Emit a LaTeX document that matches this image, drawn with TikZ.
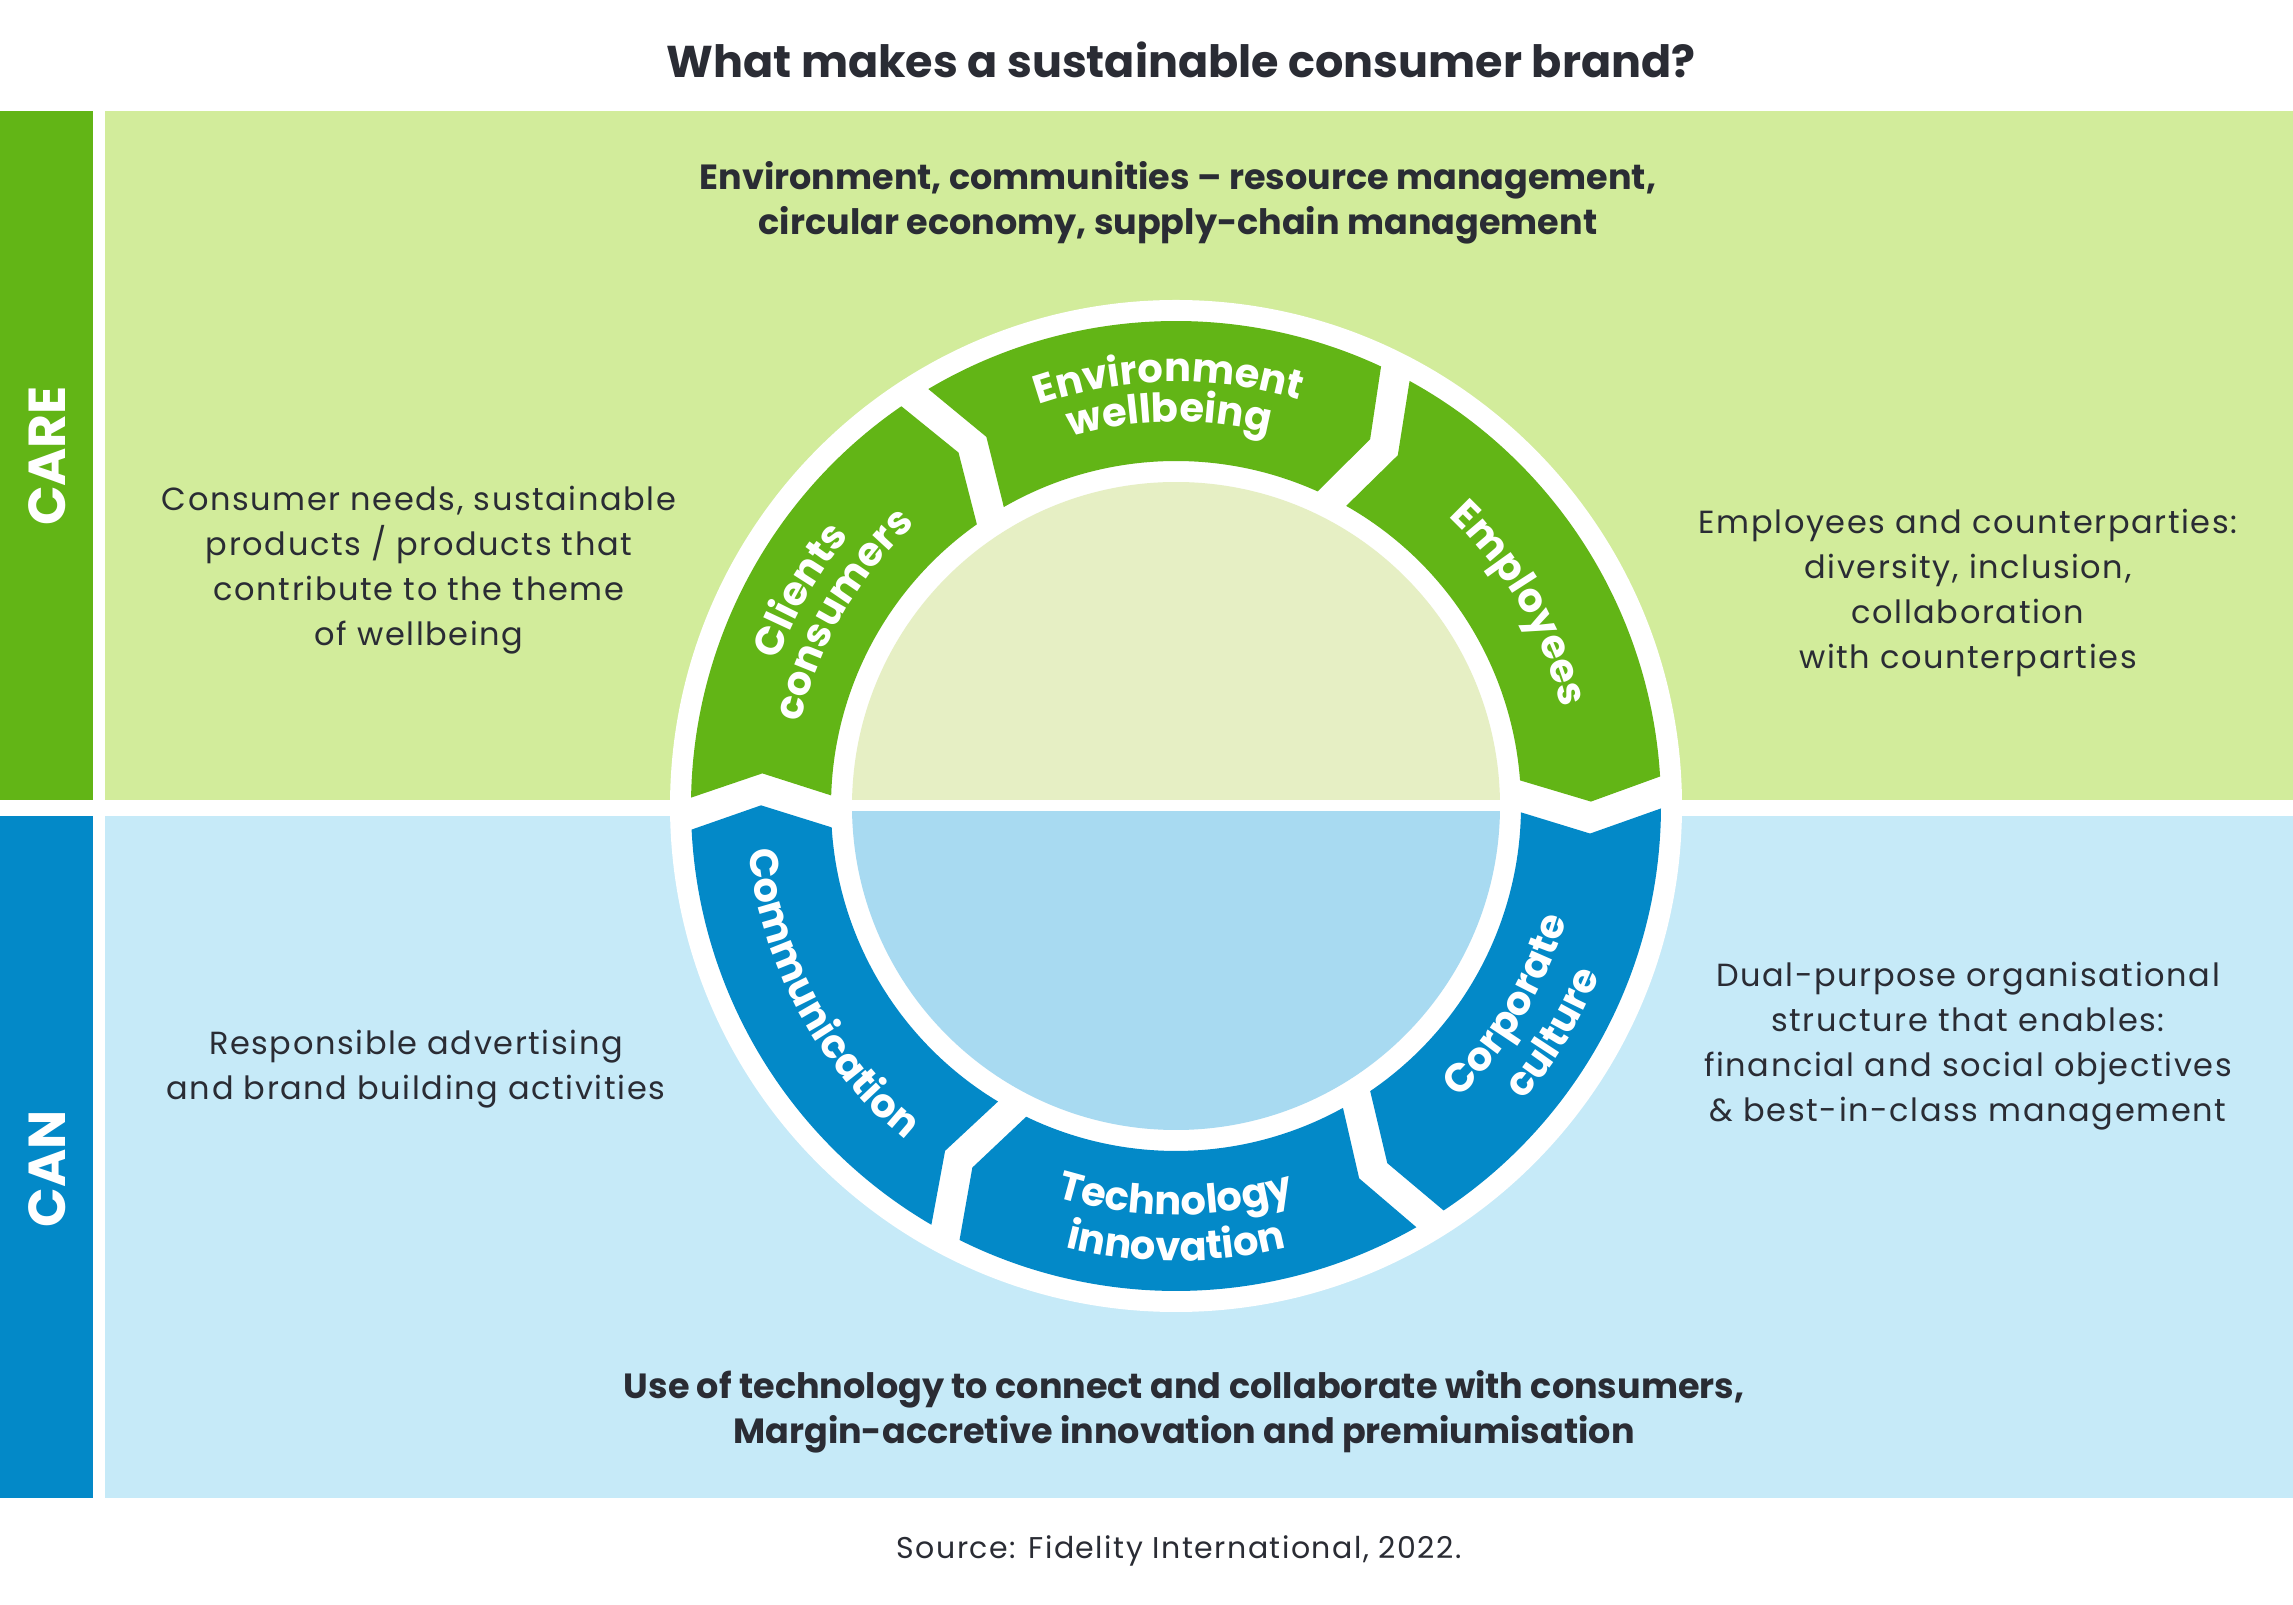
\documentclass[tikz,border=0pt]{standalone}
\usepackage{fontspec}
\setmainfont{Poppins}
\newfontfamily\bodyfont{Poppins}[LetterSpace=5]
\usetikzlibrary{decorations.text}

\definecolor{caregreen}{HTML}{62B516}
\definecolor{carepanel}{HTML}{D2EC9B}
\definecolor{caredisk}{HTML}{E6EFC4}
\definecolor{canblue}{HTML}{0389C8}
\definecolor{canpanel}{HTML}{C6EAF8}
\definecolor{candisk}{HTML}{A8DAF1}
\definecolor{ink}{HTML}{2A2C34}

\newcommand{\labelfont}{\bfseries\fontsize{40}{40}\selectfont}

% one arrow piece of the ring, running clockwise from #2 to #3
\newcommand{\ringseg}[3]{%
  \pgfmathsetmacro\ao{#2+1.6-deg(16/485)}
  \pgfmathsetmacro\am{#2-1.6-deg(16/415)}
  \pgfmathsetmacro\ai{#2+1.6-deg(16/345)}
  \pgfmathsetmacro\bo{#3+1.6+deg(16/485)}
  \pgfmathsetmacro\bm{#3-1.6+deg(16/415)}
  \pgfmathsetmacro\bi{#3+1.6+deg(16/345)}
  \fill[#1] (\ao:485pt) arc[start angle=\ao, end angle=\bo, radius=485pt]
    -- (\bm:415pt) -- (\bi:345pt)
    arc[start angle=\bi, end angle=\ai, radius=345pt]
    -- (\am:415pt) -- cycle;
}
\newcommand{\arclabel}[4]{%
  \path[decorate, decoration={text along path, text align=center,
    text color=white, text={|\labelfont|#4}}]
  (#2:#1pt) arc[start angle=#2, end angle=#3, radius=#1pt];
}

\begin{document}
\begin{tikzpicture}[
  x=1pt, y=1pt,
  body/.style={font=\bodyfont\fontsize{32}{45}\selectfont, text=ink, align=center, inner sep=0pt},
  lead/.style={font=\bfseries\fontsize{35}{45}\selectfont, text=ink, align=center, inner sep=0pt},
  tag/.style={font=\bfseries\fontsize{52}{52}\selectfont, text=white, rotate=90, inner sep=0pt},
  ]
  \useasboundingbox (0,0) rectangle (2293,1604);
  \fill[white] (0,0) rectangle (2293,1604);

  \fill[caregreen] (0,804) rectangle (93,1493);
  \fill[canblue] (0,106) rectangle (93,788);
  \fill[carepanel] (105,804) rectangle (2293,1493);
  \fill[canpanel] (105,106) rectangle (2293,788);

  \node[tag] (care) at (47,1148) {CARE};
  \node[tag] (can) at (47,435) {CAN};

  \node[font=\bfseries\fontsize{44.5}{44.5}\selectfont, text=ink, inner sep=0pt]
    (title) at (1181,1544) {What makes a sustainable consumer brand?};
  \node[lead] (caretop) at (1178,1401)
    {Environment, communities – resource management,\\
     circular economy, supply-chain management};
  \node[body] (careleft) at (419,1034)
    {Consumer needs, sustainable\\ products / products that\\
     contribute to the theme\\ of wellbeing};
  \node[body] (careright) at (1968,1011)
    {Employees and counterparties:\\ diversity, inclusion,\\
     collaboration\\ with counterparties};
  \node[body] (canleft) at (416,535)
    {Responsible advertising\\ and brand building activities};
  \node[body] (canright) at (1968,558)
    {Dual-purpose organisational\\ structure that enables:\\
     financial and social objectives\\ \& best-in-class management};
  \node[lead] (canbottom) at (1184,192)
    {Use of technology to connect and collaborate with consumers,\\
     Margin-accretive innovation and premiumisation};
  \node[body, font=\bodyfont\fontsize{30}{45}\selectfont] (source) at (1179,53)
    {Source: Fidelity International, 2022.};

  \begin{scope}[shift={(1176,798)}]
    \fill[white] (0,0) circle[radius=506pt];
    \begin{scope}
      \clip (0,0) circle[radius=324pt];
      \fill[caredisk] (-324,6) rectangle (324,324);
      \fill[candisk] (-324,-5) rectangle (324,-324);
    \end{scope}

    \ringseg{caregreen}{179.3}{121}
    \ringseg{caregreen}{121}{61.5}
    \ringseg{caregreen}{61.5}{0}
    \ringseg{canblue}{360}{300}
    \ringseg{canblue}{300}{240}
    \ringseg{canblue}{240}{179.3}

    \arclabel{424}{179.3}{121}{Clients}
    \arclabel{384}{179.3}{121}{consumers}
    \arclabel{424}{121}{61}{Environment}
    \arclabel{384}{121}{61}{wellbeing}
    \arclabel{398}{61}{0}{Employees}
    \arclabel{430}{177}{240}{Communication}
    \arclabel{409}{240}{300}{Technology}
    \arclabel{455}{240}{300}{innovation}
    \arclabel{407}{300}{358}{Corporate}
    \arclabel{456}{300}{358}{culture}
  \end{scope}
\end{tikzpicture}
\end{document}
